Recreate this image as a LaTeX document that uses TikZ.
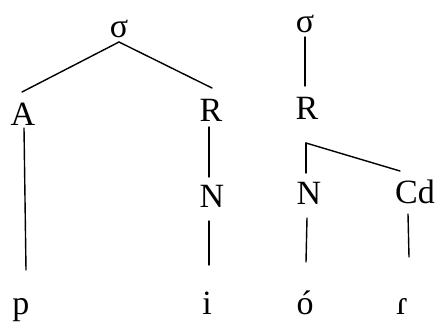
\documentclass[tikz,border=0pt]{standalone}
\usepackage{fontspec}
\setmainfont{Liberation Serif}
\begin{document}
\begin{tikzpicture}[x=1pt,y=-1pt,
  lab/.style={inner sep=0pt, text height=0pt, text depth=0pt, anchor=base, font=\fontsize{34}{40}\selectfont},
  edge/.style={line width=1.4pt, line cap=round}]
\useasboundingbox (0,0) rectangle (436,322);
% nodes (positioned at baselines)
\node[lab] (s1) at (119,37) {σ};
\node[lab] (A)  at (23,125) {A};
\node[lab] (R1) at (211,121) {R};
\node[lab] (N1) at (212,207) {N};
\node[lab] (s2) at (305,32) {σ};
\node[lab] (R2) at (307,119) {R};
\node[lab] (N2) at (309,204) {N};
\node[lab] (Cd) at (415,203) {Cd};
\node[lab] (p)  at (21,314) {p};
\node[lab] (i)  at (207,314) {i};
\node[lab] (o)  at (305,314) {ó};
\node[lab] (r)  at (402,314) {ɾ};
% connectors
\draw[edge] ([shift={(0pt,-5pt)}]s1.base) -- ([shift={(-1pt,33pt)}]A.base);
\draw[edge] ([shift={(0pt,-5pt)}]s1.base) -- ([shift={(1pt,33pt)}]R1.base);
\draw[edge] ([shift={(1pt,-3pt)}]A.base) -- ([shift={(5pt,44pt)}]p.base);
\draw[edge] ([shift={(-2pt,-6pt)}]R1.base) -- ([shift={(-3pt,30pt)}]N1.base);
\draw[edge] ([shift={(-3pt,-14pt)}]N1.base) -- ([shift={(2pt,49pt)}]i.base);
\draw[edge] ([shift={(0pt,-5pt)}]s2.base) -- ([shift={(-2pt,33pt)}]R2.base);
\draw[edge] ([shift={(-1pt,-24pt)}]R2.base) -- ([shift={(-3pt,31pt)}]N2.base);
\draw[edge] ([shift={(-1pt,-24pt)}]R2.base) -- ([shift={(-15pt,32pt)}]Cd.base);
\draw[edge] ([shift={(-2pt,-14pt)}]N2.base) -- ([shift={(1pt,52pt)}]o.base);
\draw[edge] ([shift={(-7pt,-11pt)}]Cd.base) -- ([shift={(7pt,57pt)}]r.base);
\end{tikzpicture}
\end{document}
